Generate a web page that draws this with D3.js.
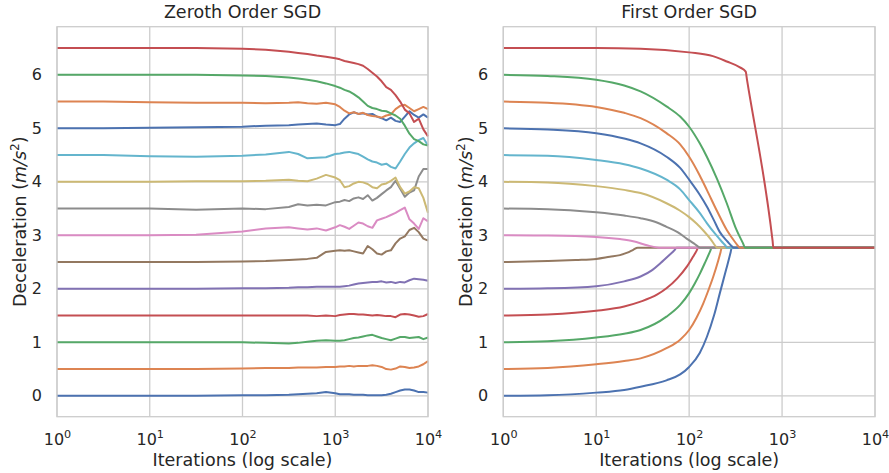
<!DOCTYPE html>
<html><head><meta charset="utf-8">
<script src="https://cdn.jsdelivr.net/npm/d3@7"></script>
<style>
body{margin:0;background:#fff}
svg{display:block}
text{font-family:"DejaVu Sans",sans-serif;fill:#262626}
</style>
</head><body><svg id="c" width="889" height="473"></svg>
<script>
// ---------- data ----------
const palette = ["#4C72B0","#DD8452","#55A868","#C44E52","#8172B3","#937860","#DA8BC3","#8C8C8C","#CCB974","#64B5CD"];
const startValues = [0,0.5,1,1.5,2,2.5,3,3.5,4,4.5,5,5.5,6,6.5];
const yTicks = [0,1,2,3,4,5,6];
const xTicks = [1,10,100,1000,10000];
const xTickExps = ["0","1","2","3","4"];
const titles = ["Zeroth Order SGD","First Order SGD"];

// Zeroth order SGD: shared iteration grid
const zoIters = [1,3.16,10,31.6,100,178,316,398,501,631,794,1000,1122,1259,1413,1585,1778,1995,2239,2512,2818,3162,3548,3981,4467,5012,5623,6310,7079,7943,8913,10000];
const zo00 = [0,0,0,0,0.01,0.01,0.02,0.03,0.04,0.05,0.07,0.05,0.03,0.03,0.03,0.02,0.02,0.02,0.01,0.01,0.01,0.01,0.02,0.04,0.07,0.10,0.12,0.12,0.10,0.07,0.07,0.06];
const zo05 = [0.5,0.5,0.5,0.5,0.51,0.52,0.52,0.53,0.53,0.53,0.54,0.54,0.55,0.55,0.56,0.55,0.56,0.56,0.56,0.57,0.56,0.54,0.50,0.49,0.51,0.55,0.54,0.52,0.53,0.55,0.59,0.65];
const zo10 = [1,1,1,1,1.0,0.99,0.98,0.99,1.01,1.03,1.04,1.03,1.03,1.04,1.06,1.08,1.09,1.11,1.13,1.14,1.11,1.08,1.06,1.04,1.07,1.10,1.10,1.08,1.09,1.10,1.06,1.09];
const zo15 = [1.5,1.5,1.5,1.5,1.5,1.5,1.5,1.5,1.5,1.49,1.5,1.49,1.51,1.52,1.53,1.53,1.52,1.52,1.51,1.50,1.51,1.50,1.49,1.49,1.47,1.52,1.53,1.52,1.50,1.48,1.49,1.53];
const zo20 = [2,2,2,2,2.01,2.01,2.02,2.03,2.03,2.04,2.04,2.04,2.04,2.05,2.06,2.08,2.10,2.11,2.12,2.13,2.13,2.14,2.12,2.13,2.11,2.13,2.12,2.16,2.19,2.18,2.17,2.15];
const zo25 = [2.5,2.5,2.5,2.5,2.51,2.52,2.54,2.55,2.56,2.58,2.69,2.71,2.72,2.71,2.72,2.70,2.68,2.66,2.80,2.74,2.66,2.64,2.70,2.72,2.85,2.94,2.98,3.10,3.14,3.06,2.94,2.90];
const zo30 = [3,3,3,3.01,3.07,3.13,3.15,3.13,3.11,3.13,3.09,3.15,3.19,3.16,3.12,3.18,3.24,3.22,3.17,3.14,3.28,3.31,3.34,3.38,3.42,3.47,3.52,3.30,3.22,3.12,3.32,3.26];
const zo35 = [3.5,3.5,3.5,3.48,3.5,3.49,3.53,3.58,3.56,3.57,3.56,3.62,3.63,3.66,3.64,3.69,3.71,3.68,3.75,3.65,3.70,3.77,3.84,3.90,4.02,3.87,3.72,3.80,3.84,4.10,4.24,4.24];
const zo40 = [4,4,4,4.01,4.01,4.02,4.04,4.02,4.01,4.06,4.13,4.08,4.03,3.90,3.92,3.97,4.0,3.99,3.96,3.90,3.88,3.95,3.97,4.02,4.08,3.90,3.78,3.82,3.90,3.88,3.70,3.42];
const zo45 = [4.5,4.5,4.48,4.47,4.49,4.51,4.56,4.52,4.44,4.45,4.46,4.52,4.53,4.55,4.56,4.54,4.52,4.47,4.42,4.38,4.36,4.32,4.34,4.28,4.25,4.38,4.52,4.64,4.72,4.78,4.82,4.68];
const zo50 = [5,5,5.01,5.02,5.03,5.05,5.06,5.07,5.08,5.09,5.07,5.06,5.08,5.18,5.26,5.30,5.27,5.28,5.26,5.27,5.22,5.19,5.15,5.20,5.14,5.12,5.22,5.32,5.25,5.20,5.26,5.20];
const zo55 = [5.5,5.5,5.49,5.48,5.48,5.47,5.48,5.49,5.47,5.46,5.48,5.45,5.40,5.33,5.28,5.30,5.27,5.29,5.25,5.23,5.22,5.20,5.24,5.26,5.36,5.42,5.44,5.38,5.32,5.36,5.40,5.36];
const zo60 = [6,6,6,6,5.99,5.98,5.95,5.93,5.91,5.88,5.84,5.79,5.76,5.72,5.69,5.64,5.58,5.50,5.42,5.38,5.36,5.33,5.32,5.28,5.24,5.18,5.05,4.90,4.80,4.76,4.70,4.68];
const zo65 = [6.5,6.5,6.5,6.5,6.49,6.47,6.43,6.41,6.39,6.36,6.34,6.31,6.29,6.26,6.24,6.22,6.20,6.17,6.11,6.04,5.97,5.88,5.77,5.72,5.62,5.50,5.35,5.28,5.12,5.18,4.98,4.85];
const zerothSeries = [zo00,zo05,zo10,zo15,zo20,zo25,zo30,zo35,zo40,zo45,zo50,zo55,zo60,zo65];

// First order SGD: [iteration, value] pairs per series
const fo00 = [[1,0],[3,0.01],[10,0.06],[20,0.11],[30,0.17],[57,0.29],[80,0.40],[100,0.54],[130,0.80],[155,1.10],[185,1.50],[214,1.92],[250,2.36],[280,2.69],[287,2.77],[10000,2.77]];
const fo05 = [[1,0.5],[3,0.52],[10,0.59],[20,0.65],[30,0.70],[57,0.89],[80,1.05],[100,1.23],[120,1.46],[142,1.73],[160,1.96],[182,2.23],[205,2.52],[218,2.69],[224,2.77],[10000,2.77]];
const fo10 = [[1,1.0],[3,1.02],[10,1.09],[20,1.16],[30,1.23],[57,1.48],[80,1.70],[100,1.92],[115,2.10],[131,2.29],[150,2.51],[168,2.70],[175,2.77],[10000,2.77]];
const fo15 = [[1,1.5],[3,1.52],[10,1.59],[20,1.67],[30,1.76],[45,1.89],[57,2.01],[75,2.20],[94,2.41],[110,2.60],[120,2.71],[125,2.77],[10000,2.77]];
const fo20 = [[1,2.0],[3,2.01],[10,2.05],[20,2.14],[30,2.23],[40,2.35],[49,2.48],[60,2.62],[70,2.73],[73,2.77],[10000,2.77]];
const fo25 = [[1,2.5],[3,2.52],[6,2.54],[10,2.56],[14,2.60],[18,2.63],[22,2.68],[25,2.73],[28,2.77],[10000,2.77]];
const fo30 = [[1,3.0],[3,2.995],[10,2.97],[18,2.93],[25,2.89],[36,2.81],[45,2.775],[49,2.77],[10000,2.77]];
const fo35 = [[1,3.5],[3,3.49],[10,3.43],[20,3.37],[30,3.32],[45,3.24],[57,3.16],[75,3.06],[94,2.94],[110,2.86],[125,2.79],[131,2.77],[10000,2.77]];
const fo40 = [[1,4.0],[3,3.99],[10,3.92],[20,3.85],[30,3.79],[57,3.60],[80,3.46],[100,3.34],[120,3.22],[142,3.09],[170,2.93],[190,2.81],[198,2.77],[10000,2.77]];
const fo45 = [[1,4.5],[3,4.49],[10,4.41],[20,4.33],[30,4.25],[57,4.04],[80,3.86],[100,3.66],[130,3.42],[155,3.23],[190,3.03],[225,2.88],[248,2.80],[254,2.77],[10000,2.77]];
const fo50 = [[1,5.0],[3,4.98],[10,4.91],[20,4.81],[30,4.72],[57,4.47],[80,4.26],[100,4.04],[130,3.76],[155,3.54],[185,3.28],[214,3.06],[260,2.88],[290,2.79],[299,2.77],[10000,2.77]];
const fo55 = [[1,5.5],[3,5.48],[10,5.40],[20,5.29],[30,5.19],[57,4.91],[80,4.70],[100,4.47],[130,4.12],[155,3.85],[200,3.45],[254,3.10],[310,2.88],[340,2.79],[347,2.77],[10000,2.77]];
const fo60 = [[1,6.0],[3,5.98],[10,5.91],[20,5.80],[30,5.69],[57,5.41],[80,5.22],[100,5.03],[130,4.72],[155,4.47],[200,4.05],[254,3.60],[320,3.12],[380,2.85],[400,2.77],[10000,2.77]];
const fo65 = [[1,6.5],[10,6.50],[30,6.49],[100,6.42],[180,6.35],[254,6.25],[352,6.14],[406,6.06],[420,5.90],[790,2.90],[806,2.77],[10000,2.77]];
const firstSeries = [fo00,fo05,fo10,fo15,fo20,fo25,fo30,fo35,fo40,fo45,fo50,fo55,fo60,fo65];

// ---------- drawing ----------
const svg = d3.select("#c");
const plotTop = 26.7, plotBottom = 416.7;
const tickFont = 16, labelFont = 17.5;
const y = d3.scaleLinear().domain([-0.39, 6.9]).range([plotBottom, plotTop]);

function panel(left, right, title, seriesPts, curve) {
  const x = d3.scaleLog().domain([1, 10000]).range([left, right]);
  const g = svg.append("g");
  g.selectAll(".gx").data(xTicks).join("line")
    .attr("x1", d => x(d)).attr("x2", d => x(d)).attr("y1", plotTop).attr("y2", plotBottom)
    .attr("stroke", "#cccccc").attr("stroke-width", 1.3);
  g.selectAll(".gy").data(yTicks).join("line")
    .attr("x1", left).attr("x2", right).attr("y1", d => y(d)).attr("y2", d => y(d))
    .attr("stroke", "#cccccc").attr("stroke-width", 1.3);
  const line = d3.line().x(d => x(d[0])).y(d => y(d[1])).curve(curve);
  seriesPts.forEach((pts, i) => {
    g.append("path").attr("d", line(pts)).attr("fill", "none")
      .attr("stroke", palette[i % palette.length]).attr("stroke-width", 2)
      .attr("stroke-linejoin", "round").attr("stroke-linecap", "butt");
  });
  g.append("rect").attr("x", left).attr("y", plotTop).attr("width", right - left).attr("height", plotBottom - plotTop)
    .attr("fill", "none").attr("stroke", "#cccccc").attr("stroke-width", 1.3);
  const ya = d3.axisLeft(y).tickValues(yTicks).tickSize(0).tickPadding(15).tickFormat(d3.format("d"));
  const yg = g.append("g").attr("transform", `translate(${left},0)`).call(ya);
  yg.select(".domain").remove();
  yg.selectAll("text").attr("font-size", tickFont).attr("font-family", "DejaVu Sans").attr("fill", "#262626");
  const xa = d3.axisBottom(x).tickValues(xTicks).tickSize(0).tickFormat(() => "");
  const xg = g.append("g").attr("transform", `translate(0,${plotBottom})`).call(xa);
  xg.select(".domain").remove();
  xg.selectAll(".tick").each(function(d, i) {
    const t = d3.select(this).select("text").attr("y", 0).attr("dy", null).attr("font-size", tickFont)
      .attr("font-family", "DejaVu Sans").attr("fill", "#262626").attr("text-anchor", "middle")
      .attr("transform", "translate(0,28.3)");
    t.text(null);
    t.append("tspan").text("10");
    t.append("tspan").attr("dy", -7).attr("font-size", 11.2).text(xTickExps[i]);
  });
  g.append("text").attr("x", (left + right) / 2).attr("y", 18.3).attr("text-anchor", "middle")
    .attr("font-size", labelFont).text(title);
  g.append("text").attr("x", (left + right) / 2).attr("y", 466).attr("text-anchor", "middle")
    .attr("font-size", labelFont).text("Iterations (log scale)");
  const yl = g.append("text").attr("transform", `translate(${left - 31},${(plotTop + plotBottom) / 2}) rotate(-90)`)
    .attr("text-anchor", "middle").attr("font-size", labelFont);
  yl.append("tspan").text("Deceleration (");
  yl.append("tspan").attr("font-style", "italic").text("m/s");
  yl.append("tspan").attr("dy", -7.5).attr("font-size", 12.2).text("2");
  yl.append("tspan").attr("dy", 7.5).text(")");
}

const zeroPts = zerothSeries.map(vals => vals.map((v, j) => [zoIters[j], v]));
panel(57, 428, titles[0], zeroPts, d3.curveLinear);
panel(503.3, 875, titles[1], firstSeries, d3.curveMonotoneX);
</script>
</body></html>
